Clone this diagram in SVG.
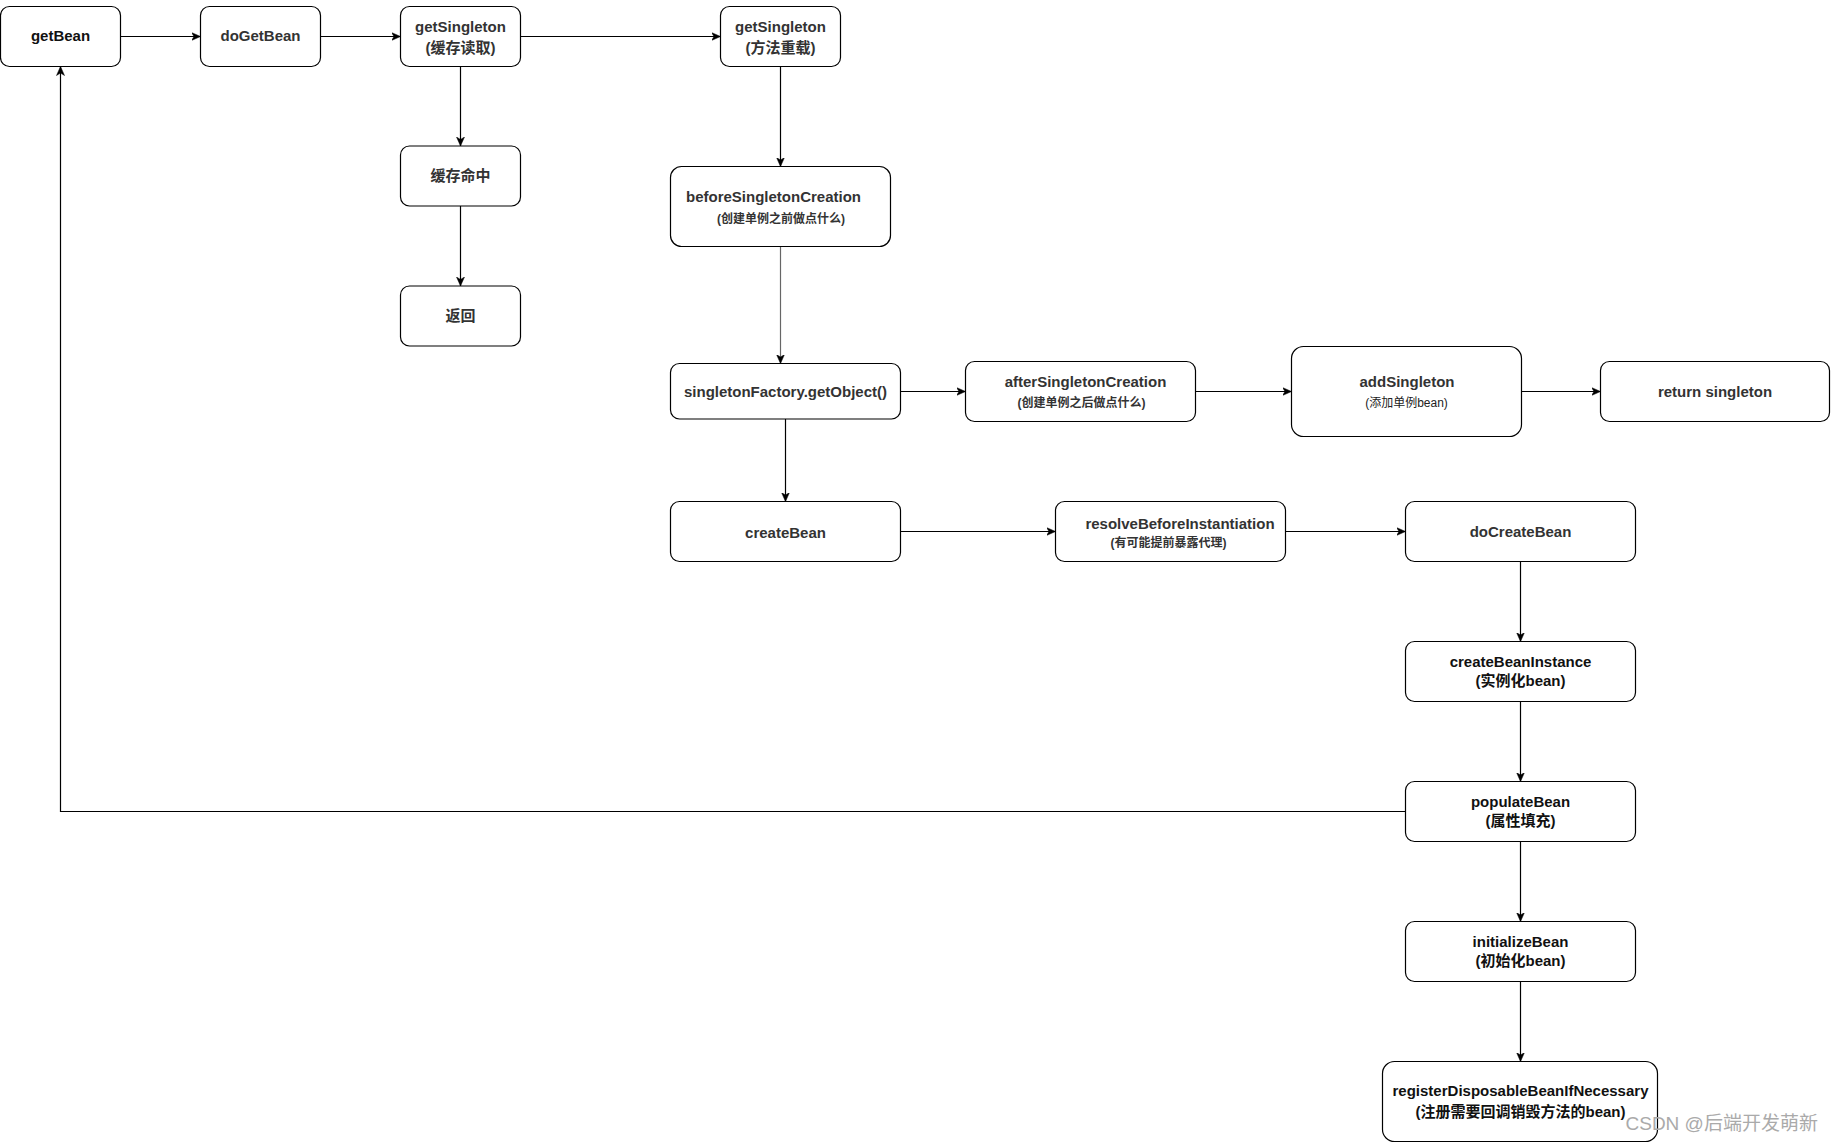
<svg xmlns="http://www.w3.org/2000/svg" width="1832" height="1143" viewBox="0 0 1832 1143">
<defs>
<style>
.n rect{fill:#fff;stroke:#000;stroke-width:1.2}
text{font-family:"Liberation Sans","Noto Sans CJK SC",sans-serif;text-anchor:middle;fill:#333}
.t{font-size:15px;font-weight:bold}
.s{font-size:12px;font-weight:bold}
.r{font-size:12px;fill:#222}
.k{fill:#111}
.e path{fill:none;stroke:#000;stroke-width:1.2;marker-end:url(#a)}
.e path.g{stroke:#666}
.wm{font-size:19px;fill:#aaaaaa;text-anchor:start;font-weight:normal}
</style>
<marker id="a" markerUnits="userSpaceOnUse" markerWidth="10" markerHeight="10" refX="9" refY="5" orient="auto">
<path d="M0,1 L9,5 L0,9 L2.5,5 Z" fill="#000" stroke="#000" stroke-width="0.5"/>
</marker>
</defs>
<rect width="1832" height="1143" fill="#fff"/>
<g class="e" id="connectors">
<path d="M120.5,36.5 H200.5"/>
<path d="M320.5,36.5 H400.5"/>
<path d="M520.5,36.5 H720.5"/>
<path d="M460.5,66.5 V146"/>
<path d="M460.5,206 V286"/>
<path d="M780.5,66.5 V166.5"/>
<path class="g" d="M780.5,246.5 V363.5"/>
<path d="M900.5,391.5 H965.5"/>
<path d="M1195.5,391.5 H1291.5"/>
<path d="M1521.5,391.5 H1600.5"/>
<path d="M785.5,419 V501.5"/>
<path d="M900.5,531.5 H1055.5"/>
<path d="M1285.5,531.5 H1405.5"/>
<path d="M1520.5,561.5 V641.5"/>
<path d="M1520.5,701.5 V781.5"/>
<path d="M1520.5,841.5 V921.5"/>
<path d="M1520.5,981.5 V1061.5"/>
<path d="M1405.5,811.5 H60.5 V66.5"/>
</g>
<g class="n" id="getBean"><rect x="0.5" y="6.5" width="120" height="60" rx="9"/><text class="t k" x="60.5" y="41">getBean</text></g>
<g class="n" id="doGetBean"><rect x="200.5" y="6.5" width="120" height="60" rx="9"/><text class="t" x="260.5" y="41">doGetBean</text></g>
<g class="n" id="getSingletonCache"><rect x="400.5" y="6.5" width="120" height="60" rx="9"/><text class="t" x="460.5" y="32">getSingleton</text><text class="t" x="460.5" y="53">(缓存读取)</text></g>
<g class="n" id="getSingletonOverload"><rect x="720.5" y="6.5" width="120" height="60" rx="9"/><text class="t" x="780.5" y="32">getSingleton</text><text class="t" x="780.5" y="53">(方法重载)</text></g>
<g class="n" id="cacheHit"><rect x="400.5" y="146" width="120" height="60" rx="9"/><text class="t" x="460.5" y="181">缓存命中</text></g>
<g class="n" id="return"><rect x="400.5" y="286" width="120" height="60" rx="9"/><text class="t" x="460.5" y="321">返回</text></g>
<g class="n" id="beforeSingletonCreation"><rect x="670.5" y="166.5" width="220" height="80" rx="11"/><text class="t" x="773.5" y="202">beforeSingletonCreation</text><text class="s" x="781" y="222.5">(创建单例之前做点什么)</text></g>
<g class="n" id="singletonFactory"><rect x="670.5" y="363.5" width="230" height="55.5" rx="9"/><text class="t" x="785.5" y="397">singletonFactory.getObject()</text></g>
<g class="n" id="afterSingletonCreation"><rect x="965.5" y="361.5" width="230" height="60" rx="9"/><text class="t" x="1085.5" y="387">afterSingletonCreation</text><text class="s" x="1081.5" y="406.5">(创建单例之后做点什么)</text></g>
<g class="n" id="addSingleton"><rect x="1291.5" y="346.5" width="230" height="90" rx="12"/><text class="t" x="1407" y="387">addSingleton</text><text class="r" x="1406.5" y="406.5">(添加单例bean)</text></g>
<g class="n" id="returnSingleton"><rect x="1600.5" y="361.5" width="229" height="60" rx="9"/><text class="t" x="1715" y="397">return singleton</text></g>
<g class="n" id="createBean"><rect x="670.5" y="501.5" width="230" height="60" rx="9"/><text class="t" x="785.5" y="538">createBean</text></g>
<g class="n" id="resolveBeforeInstantiation"><rect x="1055.5" y="501.5" width="230" height="60" rx="9"/><text class="t" x="1180" y="529">resolveBeforeInstantiation</text><text class="s" x="1168.5" y="546.5">(有可能提前暴露代理)</text></g>
<g class="n" id="doCreateBean"><rect x="1405.5" y="501.5" width="230" height="60" rx="9"/><text class="t" x="1520.5" y="536.5">doCreateBean</text></g>
<g class="n" id="createBeanInstance"><rect x="1405.5" y="641.5" width="230" height="60" rx="9"/><text class="t k" x="1520.5" y="667">createBeanInstance</text><text class="t k" x="1520.5" y="685.5">(实例化bean)</text></g>
<g class="n" id="populateBean"><rect x="1405.5" y="781.5" width="230" height="60" rx="9"/><text class="t k" x="1520.5" y="807">populateBean</text><text class="t k" x="1520.5" y="825.5">(属性填充)</text></g>
<g class="n" id="initializeBean"><rect x="1405.5" y="921.5" width="230" height="60" rx="9"/><text class="t k" x="1520.5" y="947">initializeBean</text><text class="t k" x="1520.5" y="965.5">(初始化bean)</text></g>
<g class="n" id="registerDisposableBeanIfNecessary"><rect x="1382.5" y="1061.5" width="275" height="80" rx="12"/><text class="t k" x="1520.5" y="1096">registerDisposableBeanIfNecessary</text><text class="t k" x="1520.5" y="1117">(注册需要回调销毁方法的bean)</text></g>
<text class="wm" x="1625.5" y="1130">CSDN @后端开发萌新</text>
</svg>
